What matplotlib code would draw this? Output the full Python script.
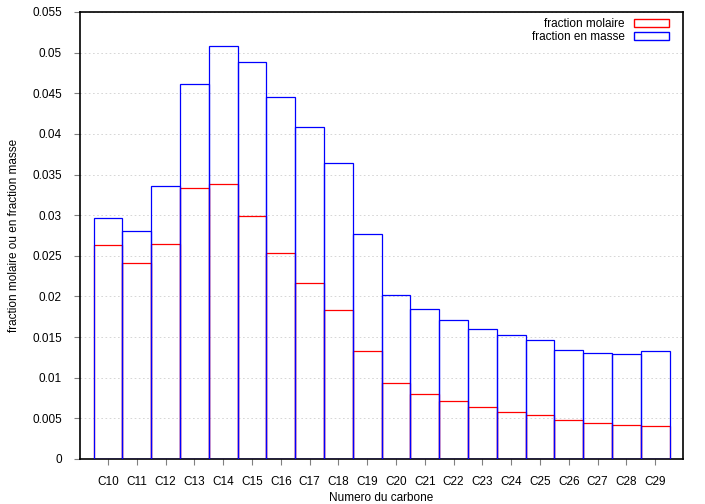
import numpy as np
import matplotlib.pyplot as plt
from matplotlib.patches import Patch

plt.rcParams['font.family'] = ['Liberation Sans', 'DejaVu Sans']

carbones = ["C%d" % n for n in range(10, 30)]
fraction_molaire = [0.0263, 0.0241, 0.0264, 0.0334, 0.0338, 0.0299, 0.0253, 0.0217,
                    0.0183, 0.0133, 0.0093, 0.0080, 0.0071, 0.0064, 0.0058, 0.0054,
                    0.0048, 0.0044, 0.0042, 0.0041]
fraction_masse = [0.0296, 0.0281, 0.0336, 0.0462, 0.0508, 0.0488, 0.0445, 0.0408,
                  0.0364, 0.0277, 0.0202, 0.0184, 0.0171, 0.0160, 0.0152, 0.0146,
                  0.0134, 0.0130, 0.0129, 0.0133]

x = np.arange(len(carbones))

fig = plt.figure(figsize=(7.05, 5.04), dpi=100)
ax = fig.add_axes([0.1135, 0.0893, 0.8555, 0.8869])

ax.bar(x, fraction_molaire, width=1.0, facecolor='none', edgecolor='#ff0000', linewidth=0.9, zorder=2)
ax.bar(x, fraction_masse, width=1.0, facecolor='none', edgecolor='#0000ff', linewidth=0.9, zorder=3)

ax.set_xlim(-0.97, 19.97)
ax.set_ylim(0, 0.055)
ax.set_xticks(x)
ax.set_xticklabels(carbones)
yt = np.arange(0, 0.0551, 0.005)
ax.set_yticks(yt)
ax.set_yticklabels(["0"] + ["%g" % v for v in yt[1:]])
ax.tick_params(labelsize=8.5, direction='out', length=4, color='#808080')
ax.tick_params(axis='x', pad=8)
ax.tick_params(axis='y', pad=9)
ax.yaxis.grid(True, linestyle=(0, (2, 3)), color='#d0d0d0', linewidth=0.6)
ax.set_axisbelow(True)
for s in ax.spines.values():
    s.set_linewidth(1.2)

ax.set_xlabel("Numero du carbone", fontsize=8.5, labelpad=3)
ax.set_ylabel("fraction molaire ou en fraction masse", fontsize=8.5, labelpad=9)

handles = [Patch(facecolor='none', edgecolor='#ff0000', label='fraction molaire'),
           Patch(facecolor='none', edgecolor='#0000ff', label='fraction en masse')]
ax.legend(handles=handles, loc='upper right', bbox_to_anchor=(0.985, 0.997),
          frameon=False, markerfirst=False,
          fontsize=8.5, handlelength=3.0, handleheight=0.6, labelspacing=0.1,
          borderaxespad=0.0, handletextpad=0.8)

fig.savefig("out.png", dpi=100)
